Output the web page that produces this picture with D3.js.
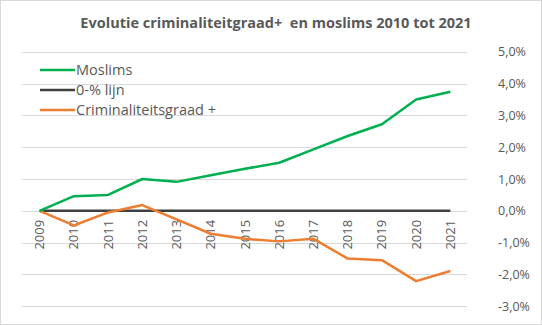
<!DOCTYPE html>
<html>
<head>
<meta charset="utf-8">
<script src="https://cdn.jsdelivr.net/npm/d3@7"></script>
<style>
  html, body { margin: 0; padding: 0; background: #fff; }
  svg { display: block; font-family: "Open Sans", "Noto Sans", sans-serif; }
</style>
</head>
<body>
<div id="chart"></div>
<script>
// years on the x axis
const years = ['2009', '2010', '2011', '2012', '2013', '2014', '2015', '2016', '2017', '2018', '2019', '2020', '2021'];
// growth in % relative to 2009
const moslims = [0, 0.46, 0.5, 1.0, 0.91, 1.12, 1.32, 1.51, 1.93, 2.35, 2.72, 3.5, 3.74];
const criminaliteit = [0, -0.46, -0.05, 0.18, -0.27, -0.72, -0.88, -0.96, -0.88, -1.5, -1.55, -2.21, -1.89];
const nulLijn = [0, 0, 0, 0, 0, 0, 0, 0, 0, 0, 0, 0, 0];
const yTicks = [5, 4, 3, 2, 1, 0, -1, -2, -3];

const width = 542, height = 325;
const series = [
  { name: 'Moslims', values: moslims, color: '#00b050' },
  { name: '0-% lijn', values: nulLijn, color: '#404040' },
  { name: 'Criminaliteitsgraad +', values: criminaliteit, color: '#ed7d31' }
];

const svg = d3.select('#chart').append('svg').attr('width', width).attr('height', height);

svg.append('rect')
  .attr('x', 0.5).attr('y', 0.5)
  .attr('width', width - 1).attr('height', height - 1)
  .attr('fill', '#fff').attr('stroke', '#d9d9d9');

const x = d3.scaleBand().domain(years).range([22.5, 467.5]);
const y = d3.scaleLinear().domain([-3, 5]).range([306.3, 51.7]);
const xc = d => x(d) + x.bandwidth() / 2;

// gridlines
svg.append('g')
  .selectAll('line')
  .data(yTicks)
  .enter()
  .append('line')
  .attr('x1', 22).attr('x2', 467)
  .attr('y1', d => Math.round(y(d)) + 0.5)
  .attr('y2', d => Math.round(y(d)) + 0.5)
  .attr('stroke', '#d9d9d9').attr('stroke-width', 1);

// right-hand percent labels
svg.append('g')
  .selectAll('text')
  .data(yTicks)
  .enter()
  .append('text')
  .attr('x', 498)
  .attr('y', d => y(d) + 4.5)
  .attr('fill', '#595959')
  .style('font-size', '12.5px')
  .text(d => d3.format('.1f')(d).replace('.', ',').replace('−', '-') + '%');

// rotated year labels under the zero line
svg.append('g')
  .selectAll('text')
  .data(years)
  .enter()
  .append('text')
  .attr('transform', d => 'translate(' + (xc(d) + 4.5) + ',' + (y(0) + 9) + ') rotate(-90)')
  .attr('text-anchor', 'end')
  .attr('fill', '#595959')
  .style('font-size', '13px')
  .text(d => d);

const line = d3.line()
  .x((d, i) => xc(years[i]))
  .y(d => y(d));

// draw zero line first, then the two series
[series[1], series[2], series[0]].forEach(s => {
  svg.append('path')
    .datum(s.values)
    .attr('d', line)
    .attr('fill', 'none')
    .attr('stroke', s.color)
    .attr('stroke-width', 2.5)
    .attr('stroke-linejoin', 'round');
});

// legend
const legend = svg.append('g')
  .selectAll('g')
  .data(series)
  .enter()
  .append('g')
  .attr('transform', (d, i) => 'translate(40,' + (70 + i * 20) + ')');

legend.append('line')
  .attr('x1', 0).attr('x2', 35)
  .attr('stroke', d => d.color).attr('stroke-width', 2.5);

legend.append('text')
  .attr('x', 36).attr('y', 5)
  .attr('fill', '#595959')
  .style('font-size', '14.5px')
  .text(d => d.name);

svg.append('text')
  .attr('x', 276).attr('y', 28)
  .attr('text-anchor', 'middle')
  .attr('fill', '#595959')
  .style('font-size', '14.5px')
  .style('font-weight', 'bold')
  .attr('xml:space', 'preserve')
  .text('Evolutie criminaliteitgraad+  en moslims 2010 tot 2021');
</script>
</body>
</html>
